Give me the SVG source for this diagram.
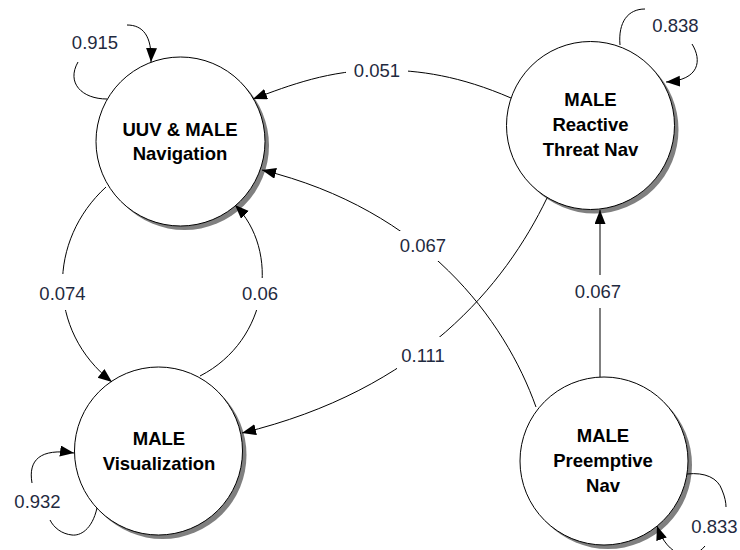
<svg xmlns="http://www.w3.org/2000/svg" width="740" height="550" viewBox="0 0 740 550">
<style>
.shadow{fill:#808080}
.node{fill:#fff;stroke:#000;stroke-width:1}
.nt{font-family:"Liberation Sans",Arial,sans-serif;font-weight:bold;font-size:18.5px;fill:#000;text-anchor:middle}
.edge{fill:none;stroke:#000;stroke-width:1}
.lbl{font-family:"Liberation Sans",Arial,sans-serif;font-size:18.5px;fill:#1f2a40;text-anchor:middle}
.bg{fill:#fff}
</style>
<defs>
<marker id="arr" markerUnits="userSpaceOnUse" markerWidth="15" markerHeight="12" refX="14" refY="5.5" orient="auto">
<path d="M0,0 L14,5.5 L0,11 z" fill="#000"/>
</marker>
</defs>
<rect width="740" height="550" fill="#fff"/>
<g id="node-uuv-male-nav">
<circle class="shadow" cx="184.5" cy="145.5" r="84.5"/>
<circle class="node" cx="180.5" cy="141.5" r="84.5"/>
<text class="nt" x="180" y="136">UUV &amp; MALE</text>
<text class="nt" x="180" y="160">Navigation</text>
</g>
<g id="node-reactive">
<circle class="shadow" cx="594.5" cy="129.5" r="84"/>
<circle class="node" cx="590.5" cy="125.5" r="84"/>
<text class="nt" x="590.5" y="106">MALE</text>
<text class="nt" x="590.5" y="131">Reactive</text>
<text class="nt" x="590.5" y="156">Threat Nav</text>
</g>
<g id="node-visualization">
<circle class="shadow" cx="162.5" cy="455" r="84"/>
<circle class="node" cx="158.5" cy="451" r="84"/>
<text class="nt" x="159" y="445">MALE</text>
<text class="nt" x="159" y="470">Visualization</text>
</g>
<g id="node-preemptive">
<circle class="shadow" cx="608" cy="465" r="84"/>
<circle class="node" cx="604" cy="461" r="84"/>
<text class="nt" x="603" y="442">MALE</text>
<text class="nt" x="603" y="467">Preemptive</text>
<text class="nt" x="603" y="492">Nav</text>
</g>
<g id="connectors">
<path class="edge" d="M107,99 C82,99 66,83 78,62"/>
<path class="edge" d="M127,25 C143,25 152,36 151,62" marker-end="url(#arr)"/>
<path class="edge" d="M511,98 C460,76 420,70 380,70 C330,70 290,85 253,99" marker-end="url(#arr)"/>
<path class="edge" d="M536,407 C505,320 425,210 262,170" marker-end="url(#arr)"/>
<path class="edge" d="M547,198 C505,285 420,390 242,433" marker-end="url(#arr)"/>
<path class="edge" d="M600,377 L600,210" marker-end="url(#arr)"/>
<path class="edge" d="M620,45 C618,22 628,9 645,9"/>
<path class="edge" d="M692,44 C702,60 700,80 666,82" marker-end="url(#arr)"/>
<path class="edge" d="M106,187 C48,240 46,330 112,382" marker-end="url(#arr)"/>
<path class="edge" d="M200,376 C270,340 280,250 235,205" marker-end="url(#arr)"/>
<path class="edge" d="M32,483 C28,460 40,448 74,453" marker-end="url(#arr)"/>
<path class="edge" d="M97,508 C92,530 80,536 72,535 C62,534 54,528 50,520"/>
<path class="edge" d="M687,474 C705,472 718,478 722,490 C725,497 726,503 726,507"/>
<path class="edge" d="M705,546 C692,562 668,558 657,526" marker-end="url(#arr)"/>
<rect class="bg" x="346" y="60" width="62" height="22"/>
<rect class="bg" x="397" y="231" width="54" height="30"/>
<rect class="bg" x="397" y="337" width="54" height="34"/>
<rect class="bg" x="572" y="275" width="52" height="33"/>
<rect class="bg" x="35" y="274" width="55" height="36"/>
<rect class="bg" x="238" y="278" width="44" height="32"/>
<text class="lbl" x="95" y="49">0.915</text>
<text class="lbl" x="675.5" y="32">0.838</text>
<text class="lbl" x="377" y="77">0.051</text>
<text class="lbl" x="423" y="252">0.067</text>
<text class="lbl" x="598" y="298">0.067</text>
<text class="lbl" x="423" y="362">0.111</text>
<text class="lbl" x="62.5" y="300">0.074</text>
<text class="lbl" x="260" y="300">0.06</text>
<text class="lbl" x="37.5" y="508">0.932</text>
<text class="lbl" x="714.5" y="533">0.833</text>
</g>
</svg>
